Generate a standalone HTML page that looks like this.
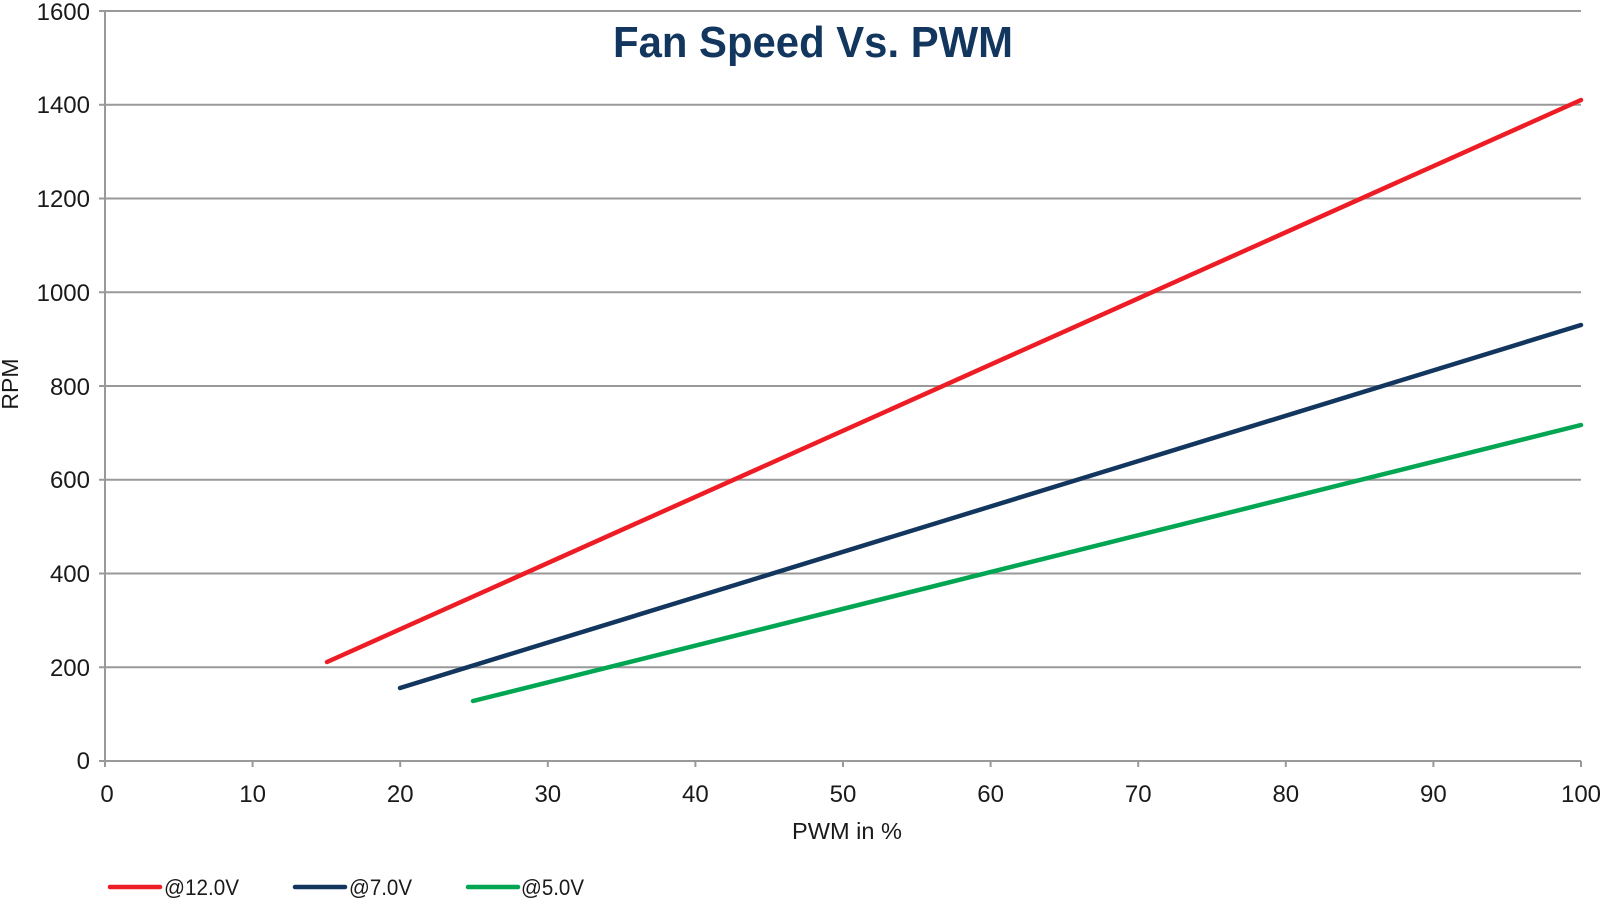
<!DOCTYPE html>
<html><head><meta charset="utf-8"><style>html,body{margin:0;padding:0;background:#fff}</style></head>
<body>
<svg width="1600" height="898" xmlns="http://www.w3.org/2000/svg" font-family="Liberation Sans, sans-serif">
<g stroke="#999" stroke-width="2">
<line x1="99" y1="11" x2="1581" y2="11"/>
<line x1="99" y1="104.75" x2="1581" y2="104.75"/>
<line x1="99" y1="198.5" x2="1581" y2="198.5"/>
<line x1="99" y1="292.25" x2="1581" y2="292.25"/>
<line x1="99" y1="386" x2="1581" y2="386"/>
<line x1="99" y1="479.75" x2="1581" y2="479.75"/>
<line x1="99" y1="573.5" x2="1581" y2="573.5"/>
<line x1="99" y1="667.25" x2="1581" y2="667.25"/>
<line x1="99" y1="761" x2="1581" y2="761"/>
<line x1="105" y1="11" x2="105" y2="767"/>
<line x1="252.6" y1="761" x2="252.6" y2="767"/>
<line x1="400.2" y1="761" x2="400.2" y2="767"/>
<line x1="547.8" y1="761" x2="547.8" y2="767"/>
<line x1="695.4" y1="761" x2="695.4" y2="767"/>
<line x1="843" y1="761" x2="843" y2="767"/>
<line x1="990.6" y1="761" x2="990.6" y2="767"/>
<line x1="1138.2" y1="761" x2="1138.2" y2="767"/>
<line x1="1285.8" y1="761" x2="1285.8" y2="767"/>
<line x1="1433.4" y1="761" x2="1433.4" y2="767"/>
<line x1="1581" y1="761" x2="1581" y2="767"/>
</g>
<g font-size="24" fill="#1a1a1a" text-anchor="end">
<text x="90" y="20">1600</text>
<text x="90" y="113">1400</text>
<text x="90" y="207">1200</text>
<text x="90" y="301">1000</text>
<text x="90" y="395">800</text>
<text x="90" y="488">600</text>
<text x="90" y="582">400</text>
<text x="90" y="676">200</text>
<text x="90" y="769">0</text>
</g>
<g font-size="24" fill="#1a1a1a" text-anchor="middle">
<text x="107" y="802">0</text>
<text x="252.6" y="802">10</text>
<text x="400.2" y="802">20</text>
<text x="547.8" y="802">30</text>
<text x="695.4" y="802">40</text>
<text x="843" y="802">50</text>
<text x="990.6" y="802">60</text>
<text x="1138.2" y="802">70</text>
<text x="1285.8" y="802">80</text>
<text x="1433.4" y="802">90</text>
<text x="1581" y="802">100</text>
</g>
<text x="792" y="839" font-size="23" fill="#1a1a1a" textLength="110" lengthAdjust="spacingAndGlyphs">PWM in %</text>
<text transform="translate(18,384) rotate(-90)" font-size="23" fill="#1a1a1a" text-anchor="middle">RPM</text>
<text x="813" y="57" font-size="44" font-weight="bold" fill="#13365f" text-anchor="middle" textLength="400" lengthAdjust="spacingAndGlyphs">Fan Speed Vs. PWM</text>
<g stroke-width="4.5" stroke-linecap="round">
<line x1="327" y1="662" x2="1581" y2="100" stroke="#ee1c25"/>
<line x1="400" y1="688" x2="1581" y2="325" stroke="#13365f"/>
<line x1="473" y1="701" x2="1581" y2="425" stroke="#00a651"/>
<line x1="110" y1="887" x2="160" y2="887" stroke="#ee1c25"/>
<line x1="295" y1="887" x2="345" y2="887" stroke="#13365f"/>
<line x1="468" y1="887" x2="518" y2="887" stroke="#00a651"/>
</g>
<g font-size="22" fill="#1a1a1a">
<text x="164" y="895" textLength="75" lengthAdjust="spacingAndGlyphs">@12.0V</text>
<text x="349" y="895" textLength="63" lengthAdjust="spacingAndGlyphs">@7.0V</text>
<text x="521" y="895" textLength="63" lengthAdjust="spacingAndGlyphs">@5.0V</text>
</g>
</svg>
</body></html>
